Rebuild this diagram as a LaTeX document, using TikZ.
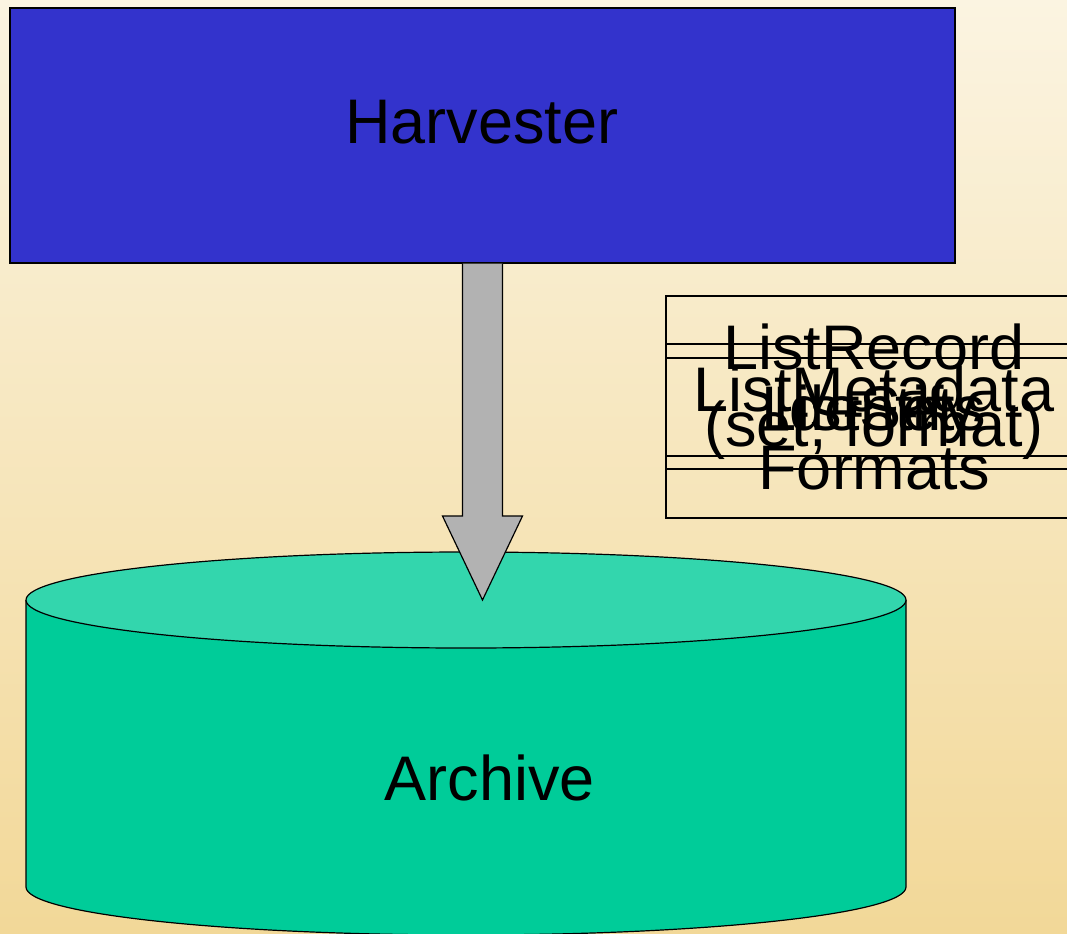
\documentclass[tikz,border=0pt]{standalone}
\usepackage{fontspec}
\setmainfont{Liberation Sans}
\usetikzlibrary{calc}

\definecolor{harvblue}{RGB}{51,51,204}
\definecolor{archbody}{RGB}{0,204,153}
\definecolor{archlid}{RGB}{51,214,173}
\definecolor{bgtop}{RGB}{251,244,225}
\definecolor{bgmid}{RGB}{248,236,206}
\definecolor{bgbottom}{RGB}{242,216,152}
\definecolor{arrowgray}{RGB}{178,178,178}

\begin{document}
\begin{tikzpicture}[x=0.75pt,y=-0.75pt,line width=0.9pt,
                big text/.style={font=\fontsize{47.25}{58}\selectfont,inner sep=0pt},
                harv node/.style={draw,fill=harvblue,minimum width=708.75pt,minimum height=191.25pt,inner sep=0pt},
                op text/.style={big text,align=center}]

  \useasboundingbox (0,0) rectangle (1067,933);
  \shade[top color=bgtop,middle color=bgmid,bottom color=bgbottom] (0,0) rectangle (1067,933);

  \node[harv node] (harvester) at (482.5,135.5) {};
  \node[big text] (harvlabel) at (482,122) {Harvester};

  \draw[fill=archbody] (26,600) -- (26,887)
      arc[start angle=180,end angle=0,x radius=440,y radius=48] -- (906,600);
  \draw[fill=archlid] (466,600) ellipse[x radius=440,y radius=48];
  \coordinate (archtop) at (482.5,600);
  \node[big text] (archive) at (490,778) {Archive};

  \draw[fill=arrowgray]
    ($(harvester.south)+(-20,0)$) -- ($(archtop)+(-20,-84)$) -- ($(archtop)+(-40,-84)$)
    -- (archtop) -- ($(archtop)+(40,-84)$) -- ($(archtop)+(20,-84)$)
    -- ($(harvester.south)+(20,0)$);

  \draw (1075,296) -- (666,296) -- (666,518) -- (1075,518);
  \draw (1075,344) -- (666,344) -- (666,469) -- (1075,469);
  \draw (1075,358) -- (666,358) -- (666,456) -- (1075,456);

  \node[op text] (records) at (874,392) {ListRecord\\(set, format)};
  \node[op text] (sets) at (874,408) {ListSets};
  \node[op text] (identify) at (874,414) {Identify};
  \node[op text] (formats) at (874,428) {ListMetadata\\Formats};
\end{tikzpicture}
\end{document}
